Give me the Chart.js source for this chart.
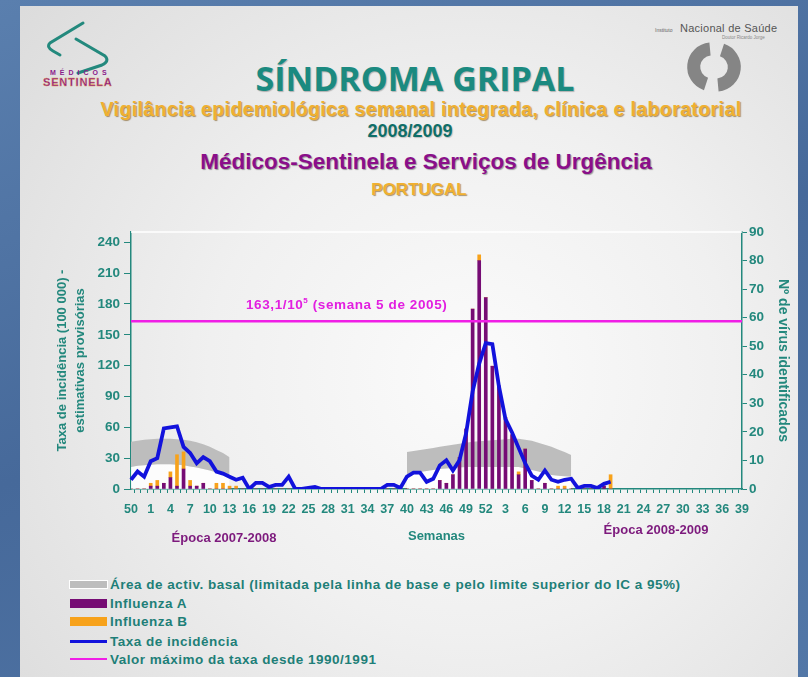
<!DOCTYPE html>
<html lang="pt">
<head>
<meta charset="utf-8">
<title>Síndroma Gripal 2008/2009</title>
<script src="https://cdn.jsdelivr.net/npm/chart.js@4.4.1/dist/chart.umd.min.js"></script>
<style>
  html, body { margin: 0; padding: 0; }
  body {
    width: 808px; height: 677px; overflow: hidden; position: relative;
    background: linear-gradient(160deg, #5a7fae 0%, #46699a 50%, #5277a7 100%);
    font-family: "Liberation Sans", Arial, sans-serif;
  }
  #slide {
    position: absolute; left: 20px; top: 6px; width: 778px; height: 671px;
    background: radial-gradient(ellipse 75% 85% at 58% 55%, #fbfbfb 0%, #f0f0f0 45%, #dcdcdc 100%);
  }
  .t { position: absolute; transform: translate(-50%, -50%); white-space: nowrap; font-weight: bold; }
  #titulo { left: 415px; top: 78px; font-family: "Open Sans", sans-serif; font-size: 34px; color: #1b8a80;
    text-shadow: 1px 1px 1px rgba(0,0,0,0.25); }
  #sub { left: 421px; top: 109px; font-size: 19.5px; letter-spacing: 0.4px; color: #f0b030; text-shadow: 1px 1px 1px rgba(110,70,0,0.55); }
  #epoca { left: 410px; top: 131px; font-size: 18px; color: #0f6e68; text-shadow: 1px 1px 1px rgba(0,0,0,0.2); }
  #rede { left: 426px; top: 162px; font-size: 22.5px; color: #8a0f8a; text-shadow: 1px 1px 1px rgba(0,0,0,0.35); }
  #pais { left: 419px; top: 190px; font-size: 17px; color: #f0b030; text-shadow: 1px 1px 1px rgba(110,70,0,0.55); }
  #grafico { position: absolute; left: 20px; top: 215px; }
  .ep { position: absolute; transform: translate(-50%, -50%); font-weight: bold; font-size: 13px; color: #7d1a7d; white-space: nowrap; }
  .leg { position: absolute; left: 70px; height: 18px; display: flex; align-items: center;
    font-size: 13.5px; letter-spacing: 0.5px; font-weight: bold; color: #1e7f78; white-space: nowrap; }
  .leg i { display: inline-block; width: 37px; margin-right: 3px; }
  svg { position: absolute; left: 0; top: 0; }
</style>
</head>
<body>
<div id="slide"></div>

<svg width="808" height="677">
  <!-- logo Médicos-Sentinela -->
  <path d="M83 23 L50 43 Q46 47 53 51 L60 55" fill="none" stroke="#23897d" stroke-width="3" stroke-linecap="round"/>
  <path d="M76 39 L105 56 Q110 61 102 65 L78 73" fill="none" stroke="#23897d" stroke-width="3" stroke-linecap="round"/>
  <text x="50" y="75" font-size="7" font-weight="bold" fill="#8b1a8b" letter-spacing="4">MÉDICOS</text>
  <text x="43" y="86" font-size="11" font-weight="bold" fill="#8b1a8b" letter-spacing="0.8" stroke="#e8a040" stroke-width="0.3">SENTINELA</text>
  <!-- logo INSA -->
  <text x="655" y="32" font-size="5" fill="#666">Instituto</text>
  <text x="680" y="32" font-size="11" fill="#555" textLength="97">Nacional de Saúde</text>
  <text x="722" y="39" font-size="4.5" fill="#888">Doutor Ricardo Jorge</text>
  <path d="M722 50 A18 18 0 0 1 718 85" fill="none" stroke="#858585" stroke-width="13"/>
  <path d="M706 84 A18 18 0 0 1 710 49" fill="none" stroke="#858585" stroke-width="13"/>
</svg>

<div class="t" id="titulo">SÍNDROMA GRIPAL</div>
<div class="t" id="sub">Vigilância epidemiológica semanal integrada, clínica e laboratorial</div>
<div class="t" id="epoca">2008/2009</div>
<div class="t" id="rede">Médicos-Sentinela e Serviços de Urgência</div>
<div class="t" id="pais">PORTUGAL</div>

<canvas id="grafico" width="780" height="335"></canvas>

<div class="ep" style="left:224px; top:537px;">Época 2007-2008</div>
<div class="ep" style="left:656px; top:529px;">Época 2008-2009</div>

<div class="leg" style="top:575px;"><i style="height:7px; background:#bdbdbd; outline:1px solid #fff;"></i>Área de activ. basal (limitada pela linha de base e pelo limite superior do IC a 95%)</div>
<div class="leg" style="top:594px;"><i style="height:9px; background:#760c74;"></i>Influenza A</div>
<div class="leg" style="top:612px;"><i style="height:9px; background:#f7a21b;"></i>Influenza B</div>
<div class="leg" style="top:632px;"><i style="height:3px; background:#1212dc;"></i>Taxa de incidência</div>
<div class="leg" style="top:650px;"><i style="height:2px; background:#f01ee6;"></i>Valor máximo da taxa desde 1990/1991</div>

<script>
// semanas: 50/2007 ate 39/2009
const semanas = [50, 51, 52,
  1, 2, 3, 4, 5, 6, 7, 8, 9, 10, 11, 12, 13, 14, 15, 16, 17, 18, 19, 20, 21, 22, 23, 24, 25, 26,
  27, 28, 29, 30, 31, 32, 33, 34, 35, 36, 37, 38, 39, 40, 41, 42, 43, 44, 45, 46, 47, 48, 49, 50, 51, 52,
  1, 2, 3, 4, 5, 6, 7, 8, 9, 10, 11, 12, 13, 14, 15, 16, 17, 18, 19, 20, 21, 22, 23, 24, 25, 26,
  27, 28, 29, 30, 31, 32, 33, 34, 35, 36, 37, 38, 39];

// taxa de incidencia por 100 000 (eixo esquerdo)
const taxaIncidencia = [
  9, 17, 12, 27, 30, 59, 60, 61, 41, 35,
  25, 31, 27, 17, 15, 12, 9, 11, 0, 6,
  6, 2, 4, 4, 12, 0, 0, 1, 2, 0,
  0, 0, 0, 0, 0, 0, 0, 0, 0, 4,
  4, 1, 12, 16, 16, 7, 10, 23, 28, 18,
  28, 54, 95, 122, 142, 141, 100, 68, 55, 40,
  25, 13, 9, 18, 9, 7, 9, 10, 1, 3,
  3, 1, 5, 7, null, null, null, null, null, null,
  null, null, null, null, null, null, null, null, null, null,
  null, null, null, null];

// numero de virus identificados (eixo direito)
const influenzaA = [
  0, 0, 0, 1, 1, 2, 4, 1, 7, 1,
  1, 2, 0, 0, 0, 0, 0, 0, 0, 0,
  0, 0, 0, 0, 0, 0, 0, 0, 0, 0,
  0, 0, 0, 0, 0, 0, 0, 0, 0, 0,
  0, 0, 0, 0, 0, 0, 0, 3, 2, 5,
  11, 21, 63, 80, 67, 43, 36, 25, 19, 5,
  14, 3, 0, 2, 0, 0, 0, 0, 0, 0,
  0, 0, 1, 0, null, null, null, null, null, null,
  null, null, null, null, null, null, null, null, null, null,
  null, null, null, null];

const influenzaB = [
  0, 0, 0, 1, 2, 0, 2, 11, 6, 2,
  0, 0, 0, 2, 2, 1, 1, 0, 0, 0,
  0, 0, 0, 0, 0, 0, 0, 0, 0, 0,
  0, 0, 0, 0, 0, 0, 0, 0, 0, 0,
  0, 0, 0, 0, 0, 0, 0, 0, 0, 0,
  0, 0, 0, 2, 0, 0, 0, 0, 0, 1,
  0, 0, 0, 0, 0, 1, 1, 0, 0, 0,
  0, 0, 0, 5, null, null, null, null, null, null,
  null, null, null, null, null, null, null, null, null, null,
  null, null, null, null];

// area de actividade basal
const linhaBase = [
  21.5, 22.5, 23, 23.5, 24, 24, 24, 23.5, 23, 22,
  21, 19.5, 18, 16, 14, 12, null, null, null, null,
  null, null, null, null, null, null, null, null, null, null,
  null, null, null, null, null, null, null, null, null, null,
  null, null, 13, 15, 16.5, 17.5, 18.5, 19.5, 20, 20.5,
  21, 21.5, 21.5, 21.5, 21.5, 21.5, 21.5, 21.5, 21.5, 21.5,
  20, 18.5, 17, 15, 13.5, 13, 12.5, 12, null, null,
  null, null, null, null, null, null, null, null, null, null,
  null, null, null, null, null, null, null, null, null, null,
  null, null, null, null];

const limiteSuperiorIC = [
  46, 47, 48, 48.5, 49, 49, 49, 48.5, 48, 47,
  45.5, 43.5, 41, 38, 35, 31, null, null, null, null,
  null, null, null, null, null, null, null, null, null, null,
  null, null, null, null, null, null, null, null, null, null,
  null, null, 36, 37, 38, 39, 40, 41, 42, 43,
  44, 45, 46, 46.5, 47, 47.5, 48, 48.5, 49, 49,
  48, 47, 45, 43, 41, 38.5, 36, 33, null, null,
  null, null, null, null, null, null, null, null, null, null,
  null, null, null, null, null, null, null, null, null, null,
  null, null, null, null];

const valorMaximo = 163.1;

const teal = '#23887d';
const fonte = '"Liberation Sans", Arial, sans-serif';
Chart.defaults.font.family = fonte;

// linha do valor maximo + texto, e filete branco no topo
const linhaMaxima = {
  id: 'linhaMaxima',
  afterDatasetsDraw(chart) {
    const { ctx, chartArea } = chart;
    const y = chart.scales.y.getPixelForValue(valorMaximo);
    ctx.save();
    ctx.strokeStyle = '#ffffff';
    ctx.lineWidth = 1.5;
    ctx.beginPath();
    ctx.moveTo(chartArea.left, chartArea.top);
    ctx.lineTo(chartArea.right, chartArea.top);
    ctx.stroke();

    ctx.strokeStyle = '#f01ee6';
    ctx.lineWidth = 2.5;
    ctx.beginPath();
    ctx.moveTo(chartArea.left, y);
    ctx.lineTo(chartArea.right, y);
    ctx.stroke();

    ctx.fillStyle = '#e21ee0';
    ctx.textBaseline = 'alphabetic';
    ctx.letterSpacing = '0.6px';
    let x = chartArea.left + 115;
    const yb = y - 12;
    ctx.font = 'bold 13.5px ' + fonte;
    ctx.fillText('163,1/10', x, yb);
    x += ctx.measureText('163,1/10').width;
    ctx.font = 'bold 8px ' + fonte;
    ctx.fillText('5', x, yb - 6);
    x += ctx.measureText('5').width;
    ctx.font = 'bold 13.5px ' + fonte;
    ctx.fillText(' (semana 5 de 2005)', x, yb);
    ctx.restore();
  }
};

new Chart(document.getElementById('grafico'), {
  type: 'bar',
  data: {
    labels: semanas,
    datasets: [
      {
        type: 'line',
        label: 'Taxa de incidência',
        data: taxaIncidencia,
        yAxisID: 'y',
        borderColor: '#1212dc',
        borderWidth: 3.8,
        pointRadius: 0,
        tension: 0,
        fill: false,
        order: 0
      },
      {
        label: 'Influenza A',
        data: influenzaA,
        yAxisID: 'y2',
        stack: 'virus',
        backgroundColor: '#760c74',
        barThickness: 3,
        order: 2
      },
      {
        label: 'Influenza B',
        data: influenzaB,
        yAxisID: 'y2',
        stack: 'virus',
        backgroundColor: '#f7a21b',
        barThickness: 3,
        order: 2
      },
      {
        type: 'line',
        label: 'Linha de base',
        data: linhaBase,
        yAxisID: 'y',
        borderWidth: 0,
        pointRadius: 0,
        fill: 'origin',
        backgroundColor: 'rgba(255,255,255,0.85)',
        order: 4
      },
      {
        type: 'line',
        label: 'Área de activ. basal',
        data: limiteSuperiorIC,
        yAxisID: 'y',
        borderWidth: 0,
        pointRadius: 0,
        fill: '-1',
        backgroundColor: '#bdbdbd',
        order: 3
      }
    ]
  },
  options: {
    responsive: false,
    animation: false,
    devicePixelRatio: 1,
    layout: { padding: { top: 17, left: 0, right: 0, bottom: 0 } },
    plugins: { legend: { display: false }, tooltip: { enabled: false } },
    scales: {
      x: {
        offset: false,
        stacked: true,
        grid: { drawOnChartArea: false, tickLength: 4, tickColor: teal, tickWidth: 1 },
        border: { color: teal, width: 1.5 },
        ticks: {
          autoSkip: false, maxRotation: 0, padding: 9, color: teal,
          font: { size: 12.5, weight: 'bold' },
          callback: (v, i) => (i % 3 === 0 ? semanas[i] : '')
        },
        title: { display: true, text: 'Semanas', color: teal, font: { size: 13, weight: 'bold' }, padding: { top: 0, bottom: 6 } },
        afterFit: s => { s.height = 61; }
      },
      y: {
        position: 'left',
        min: 0,
        max: 250,
        grid: { drawOnChartArea: false, tickLength: 7, tickColor: teal },
        border: { color: teal, width: 1.5 },
        ticks: { stepSize: 30, includeBounds: false, padding: 4, color: teal, font: { size: 13.5, weight: 'bold' } },
        title: {
          display: true,
          text: ['Taxa de incidência (100 000) -', 'estimativas provisórias'],
          color: teal,
          font: { size: 13, weight: 'bold', lineHeight: 1.4 },
          padding: { top: 33, bottom: 0 }
        },
        afterFit: s => { s.width = 111; }
      },
      y2: {
        position: 'right',
        min: 0,
        max: 90,
        stacked: true,
        grid: { drawOnChartArea: false, tickLength: 5, tickColor: teal },
        border: { color: teal, width: 1.5 },
        ticks: { stepSize: 10, padding: 2, color: teal, font: { size: 13.5, weight: 'bold' } },
        title: {
          display: true,
          text: 'Nº de vírus identificados',
          color: teal,
          font: { size: 14, weight: 'bold' },
          padding: { top: 8.6, bottom: 0 }
        },
        afterFit: s => { s.width = 58; }
      }
    }
  },
  plugins: [linhaMaxima]
});
</script>
</body>
</html>
